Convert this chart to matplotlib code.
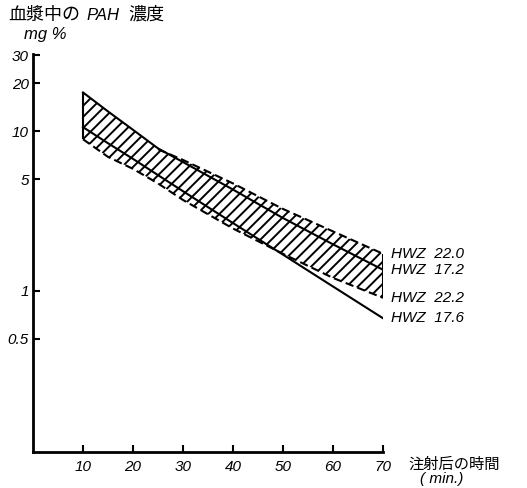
import numpy as np
import matplotlib
matplotlib.use("Agg")
import matplotlib.pyplot as plt
from matplotlib.ticker import NullLocator

plt.rcParams['font.family'] = ['Liberation Sans', 'Noto Sans CJK JP']
plt.rcParams['hatch.linewidth'] = 1.4

# time after injection (min)
t = [10, 15, 20, 25, 30, 40, 50, 60, 70]
# plasma PAH concentration (mg %)
hwz_172 = [17.5, 13.3, 10.2, 7.8, 6.4, 4.3, 2.85, 1.95, 1.35]   # solid
hwz_220 = [12.3, 10.6, 9.0, 7.7, 6.6, 4.7, 3.25, 2.35, 1.7]     # dashed
hwz_176 = [10.6, 8.4, 6.7, 5.3, 4.2, 2.65, 1.68, 1.06, 0.67]    # solid
hwz_222 = [8.9, 6.9, 5.8, 4.7, 3.7, 2.45, 1.7, 1.2, 0.9]        # dashed

xticks = [10, 20, 30, 40, 50, 60, 70]
yticks = [0.5, 1, 5, 10, 20, 30]
ytick_labels = ["0.5", "1", "5", "10", "20", "30"]

W, H = 527, 488
fig = plt.figure(figsize=(W / 100, H / 100), dpi=100)
ax = fig.add_axes([33 / W, 36 / H, 350 / W, 398 / H])
ax.set_yscale('log')
ax.set_xlim(0, 70)
ax.set_ylim(0.097, 30.5)

# hatched band
upper = np.maximum(hwz_172, hwz_220)
ax.fill_between(t, upper, hwz_222, facecolor='none', edgecolor='black',
                hatch='///', linewidth=0)
ax.vlines([t[0], t[-1]], [hwz_222[0], hwz_222[-1]], [upper[0], upper[-1]],
          color='black', lw=1.5)

ax.plot(t, hwz_172, color='black', lw=1.5)
ax.plot(t, hwz_176, color='black', lw=1.5)
# the 22.0 curve only shows where it leaves the hatched band
ax.plot(t[3:], hwz_220[3:], color='black', lw=1.5, dashes=(4, 2))
ax.plot(t, hwz_222, color='black', lw=1.5, dashes=(4, 2))

for ys, lab in [(hwz_220, "HWZ  22.0"), (hwz_172, "HWZ  17.2"),
                (hwz_222, "HWZ  22.2"), (hwz_176, "HWZ  17.6")]:
    ax.annotate(lab, xy=(t[-1], ys[-1]), xytext=(6, 0), textcoords='offset points',
                va='center', ha='left', fontsize=11, style='italic',
                annotation_clip=False)

for s in ['top', 'right']:
    ax.spines[s].set_visible(False)
ax.spines['left'].set_linewidth(2)
ax.spines['bottom'].set_linewidth(2)

ax.set_xticks(xticks)
ax.set_xticklabels([str(v) for v in xticks], fontsize=11, style='italic')
ax.set_yticks(yticks)
ax.set_yticklabels(ytick_labels, fontsize=11, style='italic')
ax.yaxis.set_minor_locator(NullLocator())
ax.tick_params(direction='in', length=5, width=1.5)
ax.tick_params(axis='x', pad=6)
ax.tick_params(axis='y', pad=3)

cjk = ['Noto Sans CJK JP', 'DejaVu Sans']
fig.text(8 / W, 1 - 15 / H, "血漿中の", fontsize=13, family=cjk, va='center', ha='left')
fig.text(86 / W, 1 - 15 / H, "PAH", fontsize=12, style='italic', va='center', ha='left')
fig.text(128 / W, 1 - 15 / H, "濃度", fontsize=13, family=cjk, va='center', ha='left')
fig.text(24 / W, 1 - 35 / H, "mg %", fontsize=12, style='italic', va='center', ha='left')
fig.text(408 / W, 1 - 464 / H, "注射后の時間", fontsize=11, family=cjk, va='center', ha='left')
fig.text(420 / W, 1 - 479 / H, "( min.)", fontsize=11, style='italic', va='center', ha='left')

fig.savefig("out.png", dpi=100)
